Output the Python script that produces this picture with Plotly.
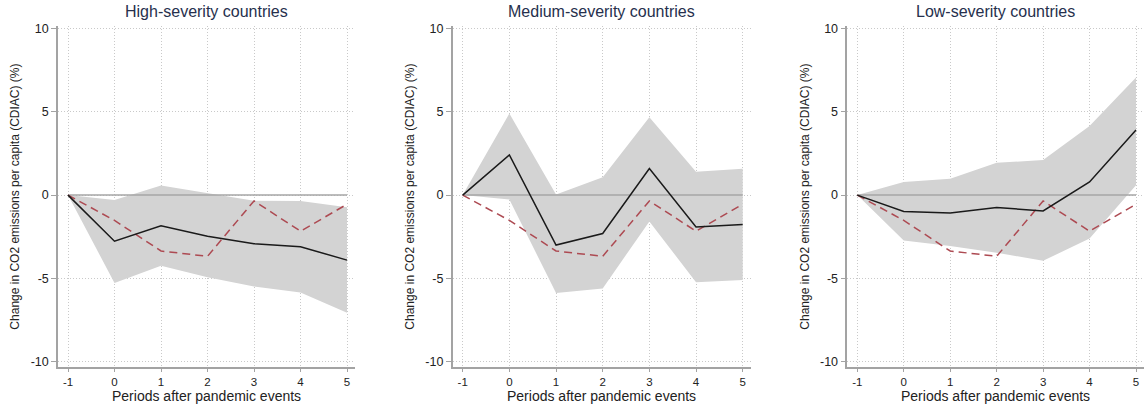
import plotly.graph_objects as go

# Event-study estimates: periods relative to pandemic events
periods = [-1, 0, 1, 2, 3, 4, 5]

panel_titles = ["High-severity countries", "Medium-severity countries", "Low-severity countries"]
x_title = "Periods after pandemic events"
y_title = "Change in CO2 emissions per capita (CDIAC) (%)"

# Point estimates (%)
high_est = [0, -2.77, -1.84, -2.47, -2.92, -3.10, -3.91]
medium_est = [0, 2.41, -3.00, -2.31, 1.60, -1.92, -1.76]
low_est = [0, -0.99, -1.07, -0.75, -0.95, 0.79, 3.91]

# Confidence interval bounds (%)
high_upper = [0, -0.30, 0.57, 0.10, -0.34, -0.36, -0.73]
high_lower = [0, -5.28, -4.25, -4.94, -5.49, -5.85, -7.07]
medium_upper = [0, 4.90, 0.04, 1.07, 4.68, 1.40, 1.58]
medium_lower = [0, -0.26, -5.89, -5.61, -1.58, -5.24, -5.10]
low_upper = [0, 0.79, 0.99, 1.94, 2.11, 4.15, 7.07]
low_lower = [0, -2.73, -3.06, -3.46, -3.95, -2.61, 0.59]

# Benchmark path (all countries), shown dashed in every panel
benchmark = [0, -1.52, -3.36, -3.68, -0.35, -2.17, -0.55]

y_tickvals = [-10, -5, 0, 5, 10]
y_ticktext = ["-10", "-5", "0", "5", "10"]
x_ticktext = ["-1", "0", "1", "2", "3", "4", "5"]

W, H = 1145, 405
FONT = "Liberation Sans, Arial, sans-serif"
TEXT = "#222222"
AXIS_GRAY = "#a3a3a3"
GRID_GRAY = "#c9c9c9"
BAND = "#d3d3d3"
RED = "#ad4a52"
TITLE_COLOR = "#26304d"

# Plot areas in pixels: (left, right)
x_px = [(58, 355), (452.7, 750.7), (847.3, 1144)]
y_px = (22, 368)   # top, bottom

panels = [
    (high_est, high_upper, high_lower),
    (medium_est, medium_upper, medium_lower),
    (low_est, low_upper, low_lower),
]

fig = go.Figure()
layout = dict(
    width=W, height=H,
    margin=dict(l=0, r=0, t=0, b=0),
    paper_bgcolor="white", plot_bgcolor="white",
    showlegend=False,
    font=dict(family=FONT, size=12, color=TEXT),
    annotations=[],
)

for i, (est, upper, lower) in enumerate(panels):
    n = "" if i == 0 else str(i + 1)
    xa, ya = "x" + n, "y" + n
    left, right = x_px[i]
    # -1 sits 10px right of the y axis, 5 sits 8px left of the plot edge
    x0 = left + 10
    x1 = right - 8
    ppu = (x1 - x0) / 6.0
    xr = [-1 - (x0 - left) / ppu, 5 + (right - x1) / ppu]

    # confidence band
    fig.add_trace(go.Scatter(
        x=periods + periods[::-1], y=upper + lower[::-1],
        fill="toself", fillcolor=BAND, line=dict(width=0),
        mode="lines", hoverinfo="skip", xaxis=xa, yaxis=ya))
    # reference line at zero
    fig.add_trace(go.Scatter(
        x=[periods[0], periods[-1]], y=[0, 0], mode="lines",
        line=dict(color="#a6a6a6", width=1.5), hoverinfo="skip",
        xaxis=xa, yaxis=ya))
    # benchmark path
    fig.add_trace(go.Scatter(
        x=periods, y=benchmark, mode="lines",
        line=dict(color=RED, width=1.5, dash="8px,5px"),
        xaxis=xa, yaxis=ya))
    # point estimates
    fig.add_trace(go.Scatter(
        x=periods, y=est, mode="lines",
        line=dict(color="#1a1a1a", width=1.5),
        xaxis=xa, yaxis=ya))

    layout["xaxis" + n] = dict(
        domain=[left / W, right / W], anchor=ya, range=xr,
        tickvals=periods, ticktext=x_ticktext,
        ticks="outside", ticklen=3, tickcolor=AXIS_GRAY, tickwidth=1,
        showline=True, linecolor=AXIS_GRAY, linewidth=1.5,
        showgrid=True, gridcolor=GRID_GRAY, griddash="1px,2px", gridwidth=1,
        zeroline=False,
        tickfont=dict(family=FONT, size=11.5, color=TEXT),
    )
    layout["yaxis" + n] = dict(
        domain=[1 - y_px[1] / H, 1 - y_px[0] / H], anchor=xa,
        range=[-10.36, 10.18],
        tickvals=y_tickvals, ticktext=y_ticktext,
        ticks="outside", ticklen=5, tickcolor=AXIS_GRAY, tickwidth=1,
        showline=True, linecolor=AXIS_GRAY, linewidth=1.5,
        showgrid=True, gridcolor=GRID_GRAY, griddash="1px,2px", gridwidth=1,
        zeroline=False,
        tickfont=dict(family=FONT, size=12.5, color=TEXT),
        title=dict(text=y_title,
                   font=dict(family=FONT, size=12, color=TEXT), standoff=8),
    )
    # panel title
    layout["annotations"].append(dict(
        text=panel_titles[i], xref="paper", yref="paper",
        x=(left + right) / 2 / W, y=1 - 8 / H, xanchor="center", yanchor="middle",
        showarrow=False, font=dict(family=FONT, size=16, color=TITLE_COLOR)))
    # x-axis title along the bottom edge
    layout["annotations"].append(dict(
        text=x_title, xref="paper", yref="paper",
        x=(left + right) / 2 / W, y=0, xanchor="center", yanchor="bottom",
        showarrow=False, borderpad=0, yshift=-1,
        font=dict(family=FONT, size=14, color=TEXT)))

fig.update_layout(**layout)
fig.write_html("out.html")
